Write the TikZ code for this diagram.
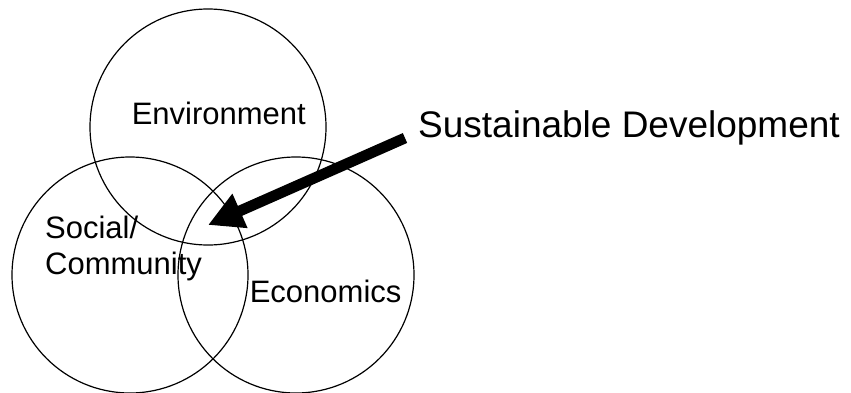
\documentclass[tikz,border=0pt]{standalone}
\usepackage{fontspec}
\setmainfont{Liberation Sans}
\usetikzlibrary{arrows.meta}
\begin{document}
\begin{tikzpicture}[x=1pt,y=1pt,
  ring/.style={circle,draw=black,line width=1.2pt,minimum size=236pt,inner sep=0pt},
  lbl/.style={anchor=base west,inner sep=0pt,align=left,font=\fontsize{31}{36}\selectfont},
  biglbl/.style={anchor=base west,inner sep=0pt,font=\fontsize{37}{42}\selectfont},
  bigarrow/.style={line width=10.8pt,-{Triangle[length=35pt,width=35pt]}}]
\useasboundingbox (0,0) rectangle (851,392);
\node[ring] (env) at (208,265) {};
\node[ring] (soc) at (130,117) {};
\node[ring] (eco) at (296,117) {};
\node[lbl] (envtxt) at (131.6,268) {Environment};
\node[lbl] (soctxt) at (45,118) {Social/\\Community};
\node[lbl] (ecotxt) at (249.6,90) {Economics};
\node[biglbl] (sd) at (418,255) {Sustainable Development};
\coordinate (tail) at (405,254);
\coordinate (tip) at (208,167);
\draw[bigarrow] (tail) -- (tip);
\end{tikzpicture}
\end{document}
